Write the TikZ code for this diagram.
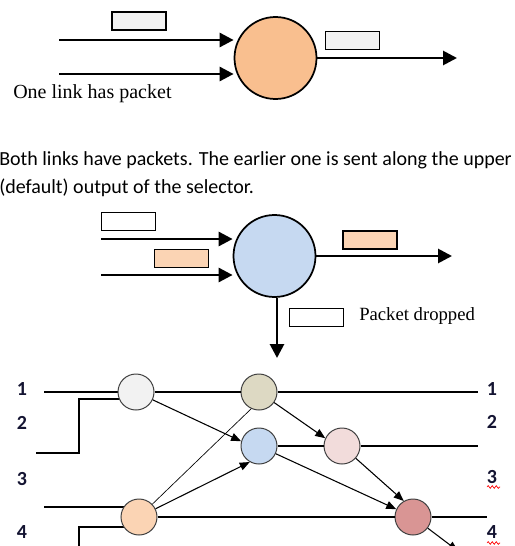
\documentclass[tikz,border=0pt]{standalone}
\usepackage{fontspec}
\setmainfont{Liberation Serif}
\newfontfamily\calibfont{Carlito}
\usetikzlibrary{arrows.meta,backgrounds,decorations.pathmorphing}

\definecolor{selorange}{RGB}{249,191,143}
\definecolor{selblue}{RGB}{198,217,241}
\definecolor{pktgray}{RGB}{242,242,242}
\definecolor{pktpeach}{RGB}{251,212,180}
\definecolor{hubolive}{RGB}{221,217,195}
\definecolor{hubpink}{RGB}{242,220,219}
\definecolor{hubred}{RGB}{217,149,148}
\definecolor{hubrim}{RGB}{64,64,64}
\definecolor{portnavy}{RGB}{20,20,50}

\begin{document}
\begin{tikzpicture}[x=0.75pt,y=0.75pt,yscale=-1,
  sel/.style={circle,draw,line width=1.3pt,minimum size=61.5pt,inner sep=0pt},
  pkt/.style={draw,line width=1.1pt,minimum width=40.5pt,minimum height=13.5pt,inner sep=0pt},
  bigarrow/.style={line width=2.1pt,-{Triangle[length=10.5pt,width=10.5pt]}},
  hub/.style={circle,draw=hubrim,line width=0.75pt,minimum size=27pt,inner sep=0pt},
  wire/.style={line width=0.9pt},
  netarrow/.style={line width=0.8pt,-{Triangle[length=7.5pt,width=6pt]}},
  port/.style={font=\calibfont\bfseries\fontsize{15}{18}\selectfont,text=portnavy,inner sep=0pt},
  squiggle/.style={red,line width=0.5pt,decorate,decoration={snake,amplitude=1pt,segment length=3pt}}]
\useasboundingbox (0,0) rectangle (514,546);

%% one link has a packet
\node [sel,fill=selorange] (selA) at (275.5,58) {};
\node [pkt,fill=pktgray] (pA1) at (139,21) {};
\node [pkt,fill=pktgray] (pA2) at (352.5,40.5) {};
\coordinate (inA1) at (59,40);
\coordinate (inA2) at (59,74);
\coordinate (outA) at (457,58);
\draw [bigarrow] (inA1) -- (selA.west |- inA1);
\draw [bigarrow] (inA2) -- (selA.west |- inA2);
\draw [bigarrow] (selA.east) -- (outA);
% Text Node
\node [anchor=base west,inner sep=0pt,font=\fontsize{15}{18}\selectfont] (capA) at (13,98) {One link has packet};

%% both links have packets
% Text Node
\node [anchor=base west,inner sep=0pt,font=\calibfont\fontsize{15}{18}\selectfont] (capB1) at (-1,165) {Both links have packets. The earlier one is sent along the upper};
% Text Node
\node [anchor=base west,inner sep=0pt,font=\calibfont\fontsize{15}{18}\selectfont] (capB2) at (-1,193) {(default) output of the selector.};

\node [sel,fill=selblue] (selB) at (274.5,256) {};
\node [pkt,fill=white] (pB1) at (128.5,221.5) {};
\node [pkt,fill=pktpeach] (pB2) at (181.5,258.5) {};
\node [pkt,fill=pktpeach] (pB3) at (370,240) {};
\node [pkt,fill=white] (pB4) at (316.5,317.5) {};
\coordinate (inB1) at (101,239);
\coordinate (inB2) at (101,275);
\coordinate (outB) at (452,256);
\coordinate (dropB) at (277,358);
\draw [bigarrow] (inB1) -- (selB.west |- inB1);
\draw [bigarrow] (inB2) -- (selB.west |- inB2);
\draw [bigarrow] (selB.east) -- (outB);
\draw [bigarrow] (selB.south -| dropB) -- (dropB);
% Text Node
\node [anchor=base west,inner sep=0pt,font=\fontsize{14}{17}\selectfont] (capDrop) at (359,320) {Packet dropped};

%% network of selectors
\node [hub,fill=pktgray] (nA) at (136,392) {};
\node [hub,fill=hubolive] (nB) at (259,392) {};
\node [hub,fill=selblue] (nC) at (259,446) {};
\node [hub,fill=hubpink] (nD) at (342,446) {};
\node [hub,fill=pktpeach] (nE) at (139,517) {};
\node [hub,fill=hubred] (nF) at (413,517) {};

\coordinate (in1) at (44,392);
\coordinate (out1) at (478,392);
\coordinate (in2) at (36,453);
\coordinate (k2) at (79,399);
\coordinate (out2) at (478,446);
\coordinate (in3) at (44,507);
\coordinate (k4) at (79,560);
\coordinate (e4) at (139,527);
\coordinate (out4) at (487,517);
\coordinate (outF) at (458,551);

\begin{scope}[on background layer]
\draw [wire] (in1) -- (nA);
\draw [wire] (in2) -| (k2) -- (k2 -| nA);
\draw [wire] (in3) -- (in3 -| nE);
\draw [wire] (e4) -| (k4);
\end{scope}
\draw [wire] (nA) -- (nB) -- (out1);
\draw [wire] (nC) -- (nD) -- (out2);
\draw [wire] (nE) -- (nF) -- (out4);

\draw [netarrow] (nA) -- (nC.165);
\draw [netarrow] (nB) -- (nD.155);
\draw [netarrow] (nC) -- (nF.155);
\draw [netarrow] (nD) -- (nF.120);
\draw [netarrow] (nE) -- (nC.240);
\draw [line width=0.5pt] (nE) -- (nB.245);
\draw [netarrow] (nF) -- (outF);

% port numbers
\node [port] (l1) at (22,389) {1};
\node [port] (l2) at (22,423) {2};
\node [port] (l3) at (22,479) {3};
\node [port] (l4) at (22,532) {4};
\node [port] (r1) at (492,389) {1};
\node [port] (r2) at (492,422) {2};
\node [port] (r3) at (492,477) {3};
\node [port] (r4) at (492,532) {4};
\draw [squiggle] (487,487) -- (500,487);
\draw [squiggle] (487,543) -- (500,543);
\end{tikzpicture}
\end{document}
